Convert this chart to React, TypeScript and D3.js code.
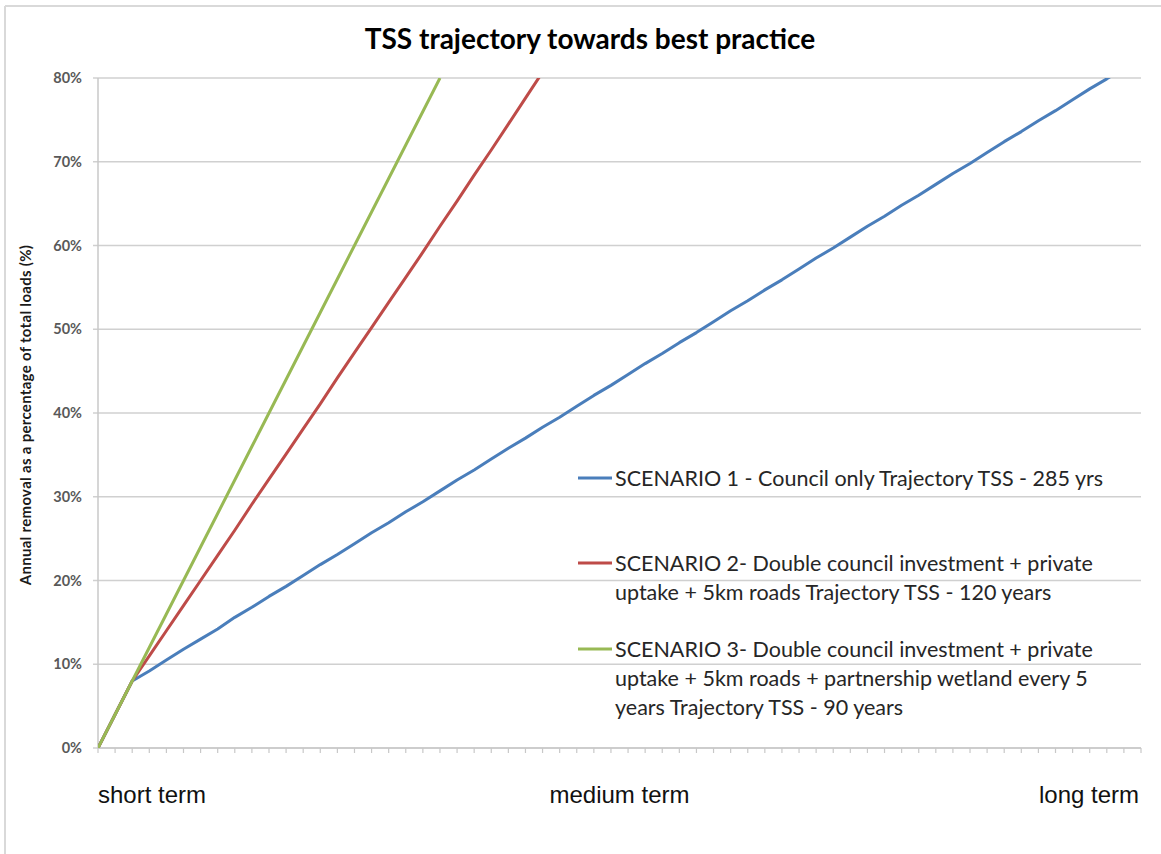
import React from "react";
import * as d3 from "d3";

// ---- data ----
const periodIndex: number[] = d3.range(0, 62); // unlabeled time steps on x axis

const scenario1: number[] = [
  0, 4.0, 8.0, 9.2, 10.5, 11.8, 13.0, 14.2, 15.6, 16.8, 18.1, 19.3, 20.6, 21.9, 23.1,
  24.4, 25.7, 26.9, 28.2, 29.4, 30.7, 32.0, 33.2, 34.5, 35.8, 37.0, 38.3, 39.5, 40.8,
  42.1, 43.3, 44.6, 45.9, 47.1, 48.4, 49.6, 50.9, 52.2, 53.4, 54.7, 55.9, 57.2, 58.5,
  59.7, 61.0, 62.3, 63.5, 64.8, 66.0, 67.3, 68.6, 69.8, 71.1, 72.4, 73.6, 74.9, 76.1,
  77.4, 78.7, 79.9, 81.2,
];
const scenario2: number[] = [
  0, 4.0, 8.0, 11.0, 14.0, 17.0, 20.0, 23.0, 26.0, 29.1, 32.1, 35.1, 38.1, 41.1, 44.2,
  47.2, 50.2, 53.2, 56.2, 59.2, 62.3, 65.3, 68.4, 71.4, 74.5, 77.6, 80.7,
];
const scenario3: number[] = [
  0, 4.0, 8.0, 12.0, 16.0, 20.0, 24.0, 28.0, 32.0, 36.0, 40.0, 44.0, 48.0, 52.0, 56.0,
  60.0, 64.0, 68.0, 72.0, 76.0, 80.0,
];

const yTicks: number[] = [0, 10, 20, 30, 40, 50, 60, 70, 80];
const termLabels: string[] = ["short term", "medium term", "long term"];

const seriesNames: string[][] = [
  ["SCENARIO 1 - Council only Trajectory TSS - 285 yrs"],
  ["SCENARIO 2- Double council investment + private", "uptake + 5km roads Trajectory TSS - 120 years"],
  [
    "SCENARIO 3- Double council investment + private",
    "uptake + 5km roads + partnership wetland every 5",
    "years Trajectory TSS - 90 years",
  ],
];
const seriesColors: string[] = ["#4a7ebb", "#be4b48", "#98b954"];
const seriesData: number[][] = [scenario1, scenario2, scenario3];

const chartTitle = "TSS trajectory towards best practice";
const yTitle = "Annual removal as a percentage of total loads (%)";

export default function App() {
  const W = 1161;
  const H = 854;
  const left = 98;
  const right = 1141;
  const top = 78;
  const bottom = 748;

  const x = d3.scaleLinear().domain([0, periodIndex.length - 1]).range([left, right]);
  const y = d3.scaleLinear().domain([0, 80]).range([bottom, top]);

  const line = d3
    .line<number>()
    .x((_, i) => x(periodIndex[i]))
    .y((d) => y(d));

  const calibri = "Lato, 'Open Sans', sans-serif";
  const legendY = [478, 563, 649];
  const lineGap = 29;

  return (
    <svg
      width={W}
      height={H}
      style={{ position: "absolute", left: 0, top: 0, background: "#fff" }}
    >
      <defs>
        <clipPath id="plotClip">
          <rect x={left} y={top} width={right - left} height={bottom - top} />
        </clipPath>
      </defs>

      {/* outer frame (top and left visible) */}
      <line x1={5} y1={6} x2={W} y2={6} stroke="#d9d9d9" strokeWidth={2} />
      <line x1={5} y1={6} x2={5} y2={H} stroke="#d9d9d9" strokeWidth={2} />

      {/* title */}
      <text
        x={590}
        y={49}
        textAnchor="middle"
        fontFamily={calibri}
        fontWeight="bold"
        fontSize={28}
        fill="#000"
      >
        {chartTitle}
      </text>

      {/* gridlines */}
      {yTicks.map((t) => (
        <line
          key={"g" + t}
          x1={left - 5}
          x2={right}
          y1={y(t)}
          y2={y(t)}
          stroke="#d0d0d0"
          strokeWidth={1.5}
        />
      ))}

      {/* y axis */}
      <line x1={left} x2={left} y1={top} y2={bottom} stroke="#c8c8c8" strokeWidth={1.5} />
      {yTicks.map((t) => (
        <text
          key={"yl" + t}
          x={82}
          y={y(t)}
          dy="0.35em"
          textAnchor="end"
          fontFamily={calibri}
          fontWeight="bold"
          fontSize={14.5}
          fill="#595959"
        >
          {t + "%"}
        </text>
      ))}
      <text
        transform={`translate(31, 415) rotate(-90)`}
        textAnchor="middle"
        fontFamily={calibri}
        fontWeight="bold"
        fontSize={15}
        letterSpacing={0.3}
        fill="#1a1a1a"
      >
        {yTitle}
      </text>

      {/* x axis */}
      <line x1={left} x2={right} y1={bottom} y2={bottom} stroke="#c8c8c8" strokeWidth={1.5} />
      {periodIndex.map((p) => (
        <line
          key={"xt" + p}
          x1={x(p)}
          x2={x(p)}
          y1={bottom}
          y2={bottom + 5}
          stroke="#c8c8c8"
          strokeWidth={1.2}
        />
      ))}

      {/* term labels */}
      {termLabels.map((lab, i) => (
        <text
          key={lab}
          x={i === 0 ? left : i === 1 ? (left + right) / 2 : right - 2}
          y={803}
          textAnchor={i === 0 ? "start" : i === 1 ? "middle" : "end"}
          fontFamily="'Liberation Sans', Arial, sans-serif"
          fontSize={24}
          fill="#111"
        >
          {lab}
        </text>
      ))}

      {/* series */}
      <g clipPath="url(#plotClip)">
        {seriesData.map((s, i) => (
          <path
            key={"s" + i}
            d={line(s) || ""}
            fill="none"
            stroke={seriesColors[i]}
            strokeWidth={3}
            strokeLinejoin="round"
          />
        ))}
      </g>

      {/* legend */}
      {seriesNames.map((lines, i) => (
        <g key={"lg" + i}>
          <line
            x1={578}
            x2={612}
            y1={legendY[i]}
            y2={legendY[i]}
            stroke={seriesColors[i]}
            strokeWidth={3}
          />
          {lines.map((ln, j) => (
            <text
              key={j}
              x={615}
              y={legendY[i] + j * lineGap}
              dy="0.35em"
              fontFamily={calibri}
              fontSize={21.5}
              fill="#262626"
            >
              {ln}
            </text>
          ))}
        </g>
      ))}
    </svg>
  );
}
